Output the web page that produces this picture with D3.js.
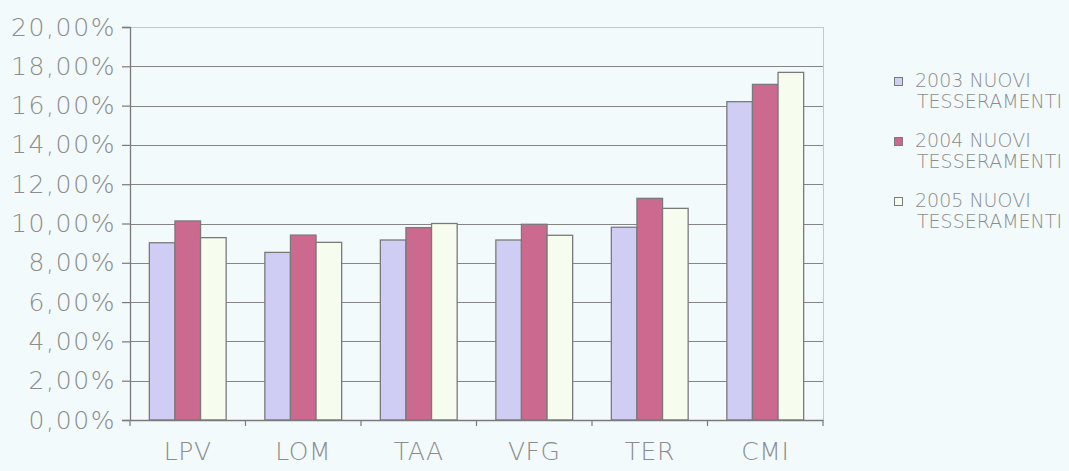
<!DOCTYPE html>
<html>
<head>
<meta charset="utf-8">
<script src="https://cdn.jsdelivr.net/npm/d3@7"></script>
<style>
  html, body { margin: 0; padding: 0; background: #f3fafc; }
  svg { display: block; }
  text { font-family: "DejaVu Sans", sans-serif; font-weight: 200; fill: #8c8c8c; }
</style>
</head>
<body>
<svg id="chart" width="1069" height="471"></svg>
<script>
// Regions
const categories = ["LPV", "LOM", "TAA", "VFG", "TER", "CMI"];
// Share of new memberships per year (%)
const series2003 = [9.02, 8.53, 9.16, 9.16, 9.81, 16.20];
const series2004 = [10.13, 9.41, 9.79, 9.96, 11.28, 17.08];
const series2005 = [9.28, 9.04, 10.00, 9.40, 10.77, 17.69];
const seriesNames = ["2003 NUOVI TESSERAMENTI", "2004 NUOVI TESSERAMENTI", "2005 NUOVI TESSERAMENTI"];
const yTicks = [0, 2, 4, 6, 8, 10, 12, 14, 16, 18, 20];

const seriesValues = [series2003, series2004, series2005];
const colors = ["#cfcdf4", "#cb6a8e", "#f7fdee"];

const svg = d3.select("#chart");
const m = { left: 130, right: 246, top: 27, bottom: 51 };
const W = 1069, H = 471;
const iw = W - m.left - m.right, ih = H - m.top - m.bottom;

const g = svg.append("g").attr("transform", `translate(${m.left},${m.top})`);

const x = d3.scaleBand().domain(categories).range([0, iw]).paddingInner(0.335).paddingOuter(0.1675);
const xs = d3.scaleBand().domain(d3.range(seriesNames.length)).range([0, x.bandwidth()]);
const y = d3.scaleLinear().domain([0, 20]).range([ih, 0]);

const fmt = v => v.toFixed(2).replace(".", ",") + "%";
const labelFont = sel => sel.style("font-size", "25px").attr("fill", "#8c8c8c")
  .style("font-family", "'DejaVu Sans', sans-serif").style("font-weight", 200);

// horizontal gridlines
g.append("g").selectAll("line").data(yTicks.filter(t => t > 0)).join("line")
  .attr("x1", 0).attr("x2", iw)
  .attr("y1", d => Math.round(y(d)) + 0.5).attr("y2", d => Math.round(y(d)) + 0.5)
  .attr("stroke", d => d === 20 ? "#c8c8c8" : "#858585").attr("stroke-width", 1.2);

// right border of plot
g.append("line").attr("x1", iw + 0.5).attr("x2", iw + 0.5).attr("y1", 0).attr("y2", ih)
  .attr("stroke", "#c8c8c8");

// bars
categories.forEach((c, i) => {
  seriesValues.forEach((vals, s) => {
    g.append("rect")
      .attr("x", x(c) + xs(s))
      .attr("y", y(vals[i]))
      .attr("width", xs.bandwidth())
      .attr("height", ih - y(vals[i]))
      .attr("fill", colors[s])
      .attr("stroke", "#7a7a7a")
      .attr("stroke-width", 1.3);
  });
});

// y axis
const yAxis = g.append("g").call(d3.axisLeft(y).tickValues(yTicks).tickFormat(fmt).tickSize(8).tickPadding(6));
yAxis.select(".domain").attr("stroke", "#7a7a7a").attr("stroke-width", 1.3);
yAxis.selectAll(".tick line").attr("stroke", "#7a7a7a").attr("stroke-width", 1.2);
yAxis.selectAll(".tick text").call(labelFont).style("letter-spacing", "1.6px");

// x axis
const xAxis = g.append("g").attr("transform", `translate(0,${ih})`)
  .call(d3.axisBottom(x).tickSize(0).tickPadding(22));
xAxis.select(".domain").attr("stroke", "#7a7a7a").attr("stroke-width", 1.3);
xAxis.selectAll(".tick text").call(labelFont).style("letter-spacing", "0.6px");
// category separator ticks
const step = x.step();
g.append("g").selectAll("line").data(d3.range(categories.length + 1)).join("line")
  .attr("x1", d => d * step).attr("x2", d => d * step)
  .attr("y1", ih).attr("y2", ih + 6)
  .attr("stroke", "#7a7a7a").attr("stroke-width", 1.2);

// legend
const lg = svg.append("g").attr("transform", "translate(894,77)");
seriesNames.forEach((name, i) => {
  const row = lg.append("g").attr("transform", `translate(0,${i * 60})`);
  row.append("rect").attr("x", 0.5).attr("y", 0.5).attr("width", 8).attr("height", 8)
    .attr("fill", colors[i]).attr("stroke", "#7a7a7a").attr("stroke-width", 1);
  const parts = name.split(" ");
  row.append("text").attr("x", 21).attr("y", 10).style("font-size", "19px").attr("fill", "#979797")
    .text(parts[0] + " " + parts[1]);
  row.append("text").attr("x", 23).attr("y", 31).style("font-size", "19px").attr("fill", "#979797")
    .text(parts[2]);
});
</script>
</body>
</html>
